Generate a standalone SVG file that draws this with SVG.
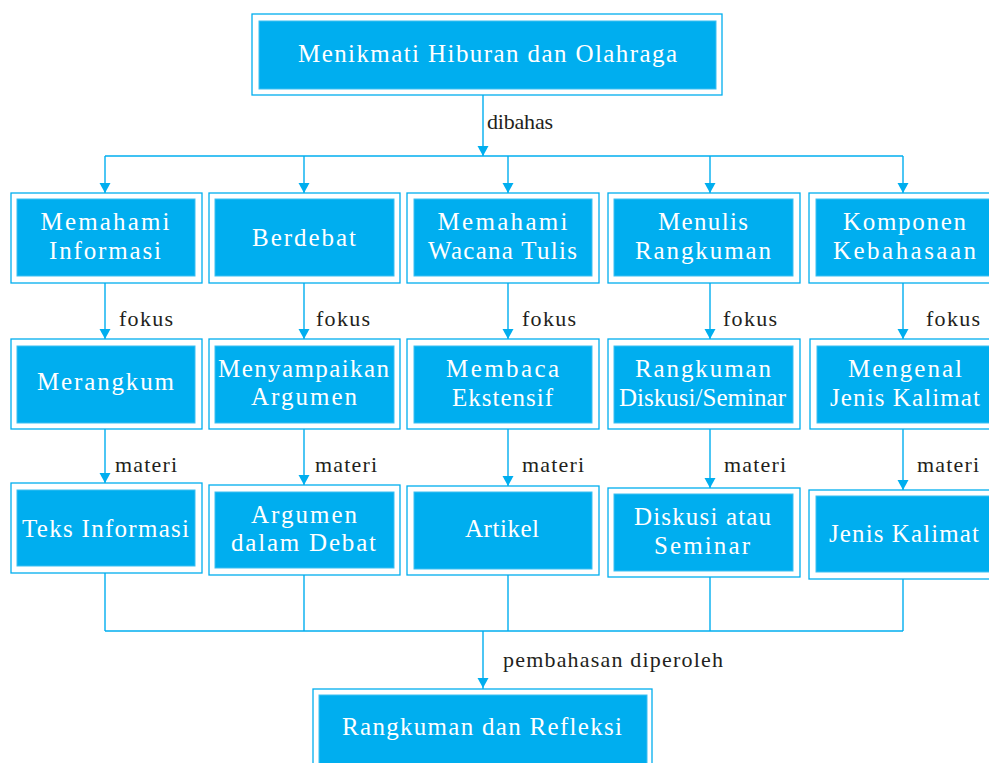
<svg xmlns="http://www.w3.org/2000/svg" width="989" height="763" viewBox="0 0 989 763">
<style>
.outer{fill:#ffffff;stroke:#00AEEF;stroke-width:1.3}
.inner{fill:#00AEEF;stroke:#3dbff2;stroke-width:1}
.nt{font-family:"Liberation Serif","DejaVu Serif",serif;font-size:25px;fill:#ffffff;text-anchor:middle}
.lbl{font-family:"Liberation Serif","DejaVu Serif",serif;font-size:22px;fill:#231f20}
.con{fill:none;stroke:#00AEEF;stroke-width:1.4}
.arr{marker-mid:url(#ah)}
.arrE{marker-end:url(#ah)}
</style>
<defs>
<marker id="ah" markerUnits="userSpaceOnUse" viewBox="-10 -6 10 12" refX="0" refY="0" markerWidth="10" markerHeight="12" orient="auto">
<path d="M0,0 L-10,-5.5 L-10,5.5 Z" fill="#00AEEF"/>
</marker>
</defs>
<rect width="989" height="763" fill="#ffffff"/>

<g id="connectors">
<path class="con arrE" d="M483,89 V156"/>
<path class="con" d="M105,156 H903"/>
<path class="con arr" d="M105,156 V193 V199"/>
<path class="con arr" d="M304,156 V193 V199"/>
<path class="con arr" d="M508,156 V193 V199"/>
<path class="con arr" d="M710,156 V193 V199"/>
<path class="con arr" d="M903,156 V193 V199"/>
<path class="con arr" d="M105,276 V339 V346"/>
<path class="con arr" d="M304,276 V339 V346"/>
<path class="con arr" d="M508,276 V339 V346"/>
<path class="con arr" d="M710,276 V339 V346"/>
<path class="con arr" d="M903,276 V339 V346"/>
<path class="con arr" d="M105,423 V483 V490"/>
<path class="con arr" d="M304,423 V485 V492"/>
<path class="con arr" d="M508,423 V486 V492"/>
<path class="con arr" d="M710,423 V488 V494"/>
<path class="con arr" d="M903,423 V490 V496"/>
<path class="con" d="M105,566 V631"/>
<path class="con" d="M304,568 V631"/>
<path class="con" d="M508,569 V631"/>
<path class="con" d="M710,571 V631"/>
<path class="con" d="M903,572 V631"/>
<path class="con" d="M105,631 H903"/>
<path class="con arr" d="M483,631 V688 V695"/>
</g>

<g id="labels">
<text class="lbl" x="487" y="129" textLength="66" lengthAdjust="spacing">dibahas</text>
<text class="lbl" x="119" y="326" textLength="54" lengthAdjust="spacing">fokus</text>
<text class="lbl" x="316" y="326" textLength="54" lengthAdjust="spacing">fokus</text>
<text class="lbl" x="522" y="326" textLength="54" lengthAdjust="spacing">fokus</text>
<text class="lbl" x="723" y="326" textLength="54" lengthAdjust="spacing">fokus</text>
<text class="lbl" x="926" y="326" textLength="54" lengthAdjust="spacing">fokus</text>
<text class="lbl" x="115" y="472" textLength="62" lengthAdjust="spacing">materi</text>
<text class="lbl" x="315" y="472" textLength="62" lengthAdjust="spacing">materi</text>
<text class="lbl" x="522" y="472" textLength="62" lengthAdjust="spacing">materi</text>
<text class="lbl" x="724" y="472" textLength="62" lengthAdjust="spacing">materi</text>
<text class="lbl" x="917" y="472" textLength="62" lengthAdjust="spacing">materi</text>
<text class="lbl" x="503" y="667" textLength="220" lengthAdjust="spacing">pembahasan diperoleh</text>
</g>

<g id="node-top">
<rect class="outer" x="252" y="14" width="470" height="81"/>
<rect class="inner" x="259" y="21" width="457" height="68"/>
<text class="nt" x="487.5" y="62" textLength="379" lengthAdjust="spacing">Menikmati Hiburan dan Olahraga</text>
</g>

<g id="node-memahami-informasi">
<rect class="outer" x="11" y="193" width="191" height="90"/>
<rect class="inner" x="17" y="199" width="178" height="77"/>
<text class="nt" x="105" y="230" textLength="129" lengthAdjust="spacing">Memahami</text>
<text class="nt" x="105" y="259" textLength="112" lengthAdjust="spacing">Informasi</text>
</g>
<g id="node-berdebat">
<rect class="outer" x="209" y="193" width="191" height="90"/>
<rect class="inner" x="215" y="199" width="179" height="77"/>
<text class="nt" x="304" y="246" textLength="104" lengthAdjust="spacing">Berdebat</text>
</g>
<g id="node-memahami-wacana">
<rect class="outer" x="407" y="193" width="192" height="90"/>
<rect class="inner" x="414" y="199" width="178" height="77"/>
<text class="nt" x="502.5" y="230" textLength="130" lengthAdjust="spacing">Memahami</text>
<text class="nt" x="502.5" y="259" textLength="149" lengthAdjust="spacing">Wacana Tulis</text>
</g>
<g id="node-menulis-rangkuman">
<rect class="outer" x="608" y="193" width="192" height="90"/>
<rect class="inner" x="614" y="199" width="179" height="77"/>
<text class="nt" x="703" y="230" textLength="90" lengthAdjust="spacing">Menulis</text>
<text class="nt" x="703" y="259" textLength="136" lengthAdjust="spacing">Rangkuman</text>
</g>
<g id="node-komponen">
<rect class="outer" x="809" y="193" width="190" height="90"/>
<rect class="inner" x="816" y="199" width="176" height="77"/>
<text class="nt" x="904.5" y="230" textLength="123" lengthAdjust="spacing">Komponen</text>
<text class="nt" x="904.5" y="259" textLength="143" lengthAdjust="spacing">Kebahasaan</text>
</g>

<g id="node-merangkum">
<rect class="outer" x="11" y="339" width="191" height="90"/>
<rect class="inner" x="17" y="346" width="178" height="77"/>
<text class="nt" x="105.5" y="390" textLength="137" lengthAdjust="spacing">Merangkum</text>
</g>
<g id="node-menyampaikan">
<rect class="outer" x="209" y="339" width="191" height="90"/>
<rect class="inner" x="215" y="346" width="179" height="77"/>
<text class="nt" x="303.5" y="377" textLength="171" lengthAdjust="spacing">Menyampaikan</text>
<text class="nt" x="304" y="405" textLength="106" lengthAdjust="spacing">Argumen</text>
</g>
<g id="node-membaca">
<rect class="outer" x="407" y="339" width="192" height="90"/>
<rect class="inner" x="414" y="346" width="178" height="77"/>
<text class="nt" x="502.5" y="377" textLength="113" lengthAdjust="spacing">Membaca</text>
<text class="nt" x="502.5" y="406" textLength="101" lengthAdjust="spacing">Ekstensif</text>
</g>
<g id="node-rangkuman-diskusi">
<rect class="outer" x="608" y="339" width="192" height="90"/>
<rect class="inner" x="614" y="346" width="179" height="77"/>
<text class="nt" x="703" y="377" textLength="136" lengthAdjust="spacing">Rangkuman</text>
<text class="nt" x="702.5" y="406" textLength="167" lengthAdjust="spacing">Diskusi/Seminar</text>
</g>
<g id="node-mengenal">
<rect class="outer" x="810" y="339" width="190" height="90"/>
<rect class="inner" x="817" y="346" width="176" height="77"/>
<text class="nt" x="905" y="377" textLength="114" lengthAdjust="spacing">Mengenal</text>
<text class="nt" x="905" y="406" textLength="150" lengthAdjust="spacing">Jenis Kalimat</text>
</g>

<g id="node-teks-informasi">
<rect class="outer" x="11" y="483" width="191" height="90"/>
<rect class="inner" x="17" y="490" width="178" height="76"/>
<text class="nt" x="105.5" y="537" textLength="167" lengthAdjust="spacing">Teks Informasi</text>
</g>
<g id="node-argumen-debat">
<rect class="outer" x="209" y="485" width="191" height="90"/>
<rect class="inner" x="215" y="492" width="179" height="76"/>
<text class="nt" x="304" y="523" textLength="106" lengthAdjust="spacing">Argumen</text>
<text class="nt" x="303.5" y="551" textLength="145" lengthAdjust="spacing">dalam Debat</text>
</g>
<g id="node-artikel">
<rect class="outer" x="407" y="486" width="192" height="89"/>
<rect class="inner" x="414" y="492" width="178" height="77"/>
<text class="nt" x="502" y="537" textLength="74" lengthAdjust="spacing">Artikel</text>
</g>
<g id="node-diskusi-seminar">
<rect class="outer" x="608" y="488" width="192" height="89"/>
<rect class="inner" x="614" y="494" width="179" height="77"/>
<text class="nt" x="702.5" y="525" textLength="137" lengthAdjust="spacing">Diskusi atau</text>
<text class="nt" x="702" y="554" textLength="96" lengthAdjust="spacing">Seminar</text>
</g>
<g id="node-jenis-kalimat">
<rect class="outer" x="809" y="490" width="190" height="89"/>
<rect class="inner" x="816" y="496" width="176" height="76"/>
<text class="nt" x="904" y="542" textLength="150" lengthAdjust="spacing">Jenis Kalimat</text>
</g>

<g id="node-rangkuman-refleksi">
<rect class="outer" x="313" y="689" width="339" height="100"/>
<rect class="inner" x="319" y="695" width="328" height="90"/>
<text class="nt" x="482" y="735" textLength="280" lengthAdjust="spacing">Rangkuman dan Refleksi</text>
</g>
</svg>
